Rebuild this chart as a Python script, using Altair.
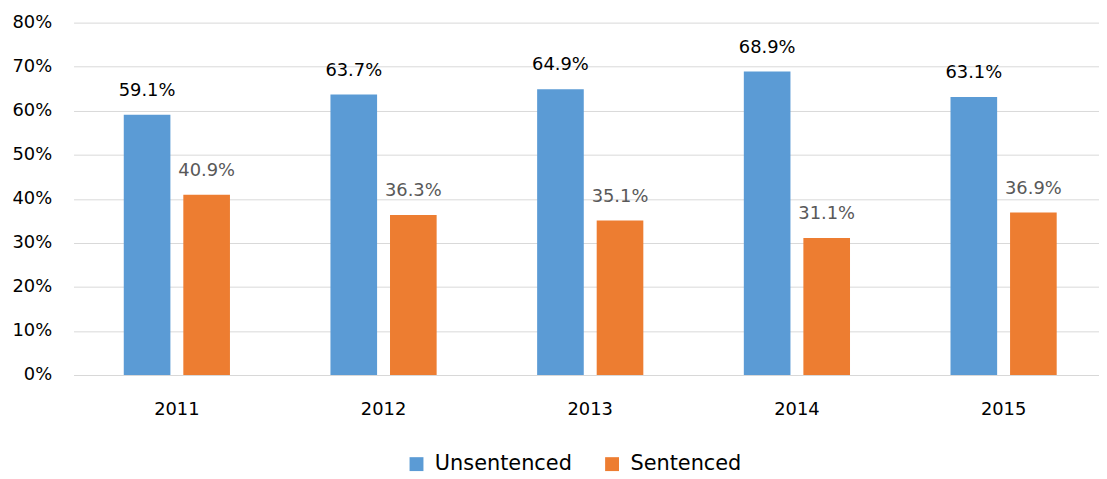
import altair as alt
import pandas as pd

years = ["2011", "2012", "2013", "2014", "2015"]
unsentenced = [59.1, 63.7, 64.9, 68.9, 63.1]
sentenced = [40.9, 36.3, 35.1, 31.1, 36.9]
series = ["Unsentenced", "Sentenced"]
colors = ["#5B9BD5", "#ED7D31"]
label_colors = ["#000000", "#595959"]

rows = []
for i, y in enumerate(years):
    rows.append({"year": y, "series": series[0], "value": unsentenced[i] / 100,
                 "label": f"{unsentenced[i]:.1f}%", "lc": label_colors[0]})
    rows.append({"year": y, "series": series[1], "value": sentenced[i] / 100,
                 "label": f"{sentenced[i]:.1f}%", "lc": label_colors[1]})
df = pd.DataFrame(rows)

FONT = "DejaVu Sans"

x = alt.X("year:N", title=None, sort=years,
          scale=alt.Scale(range=[0, 1041], paddingInner=0.424, paddingOuter=0.212),
          axis=alt.Axis(labelAngle=0, labelFontSize=18, labelPadding=26, ticks=False,
                        domain=True, domainColor="#d9d9d9", labelColor="#000000",
                        labelFont=FONT))
xo = alt.XOffset("series:N", sort=series,
                 scale=alt.Scale(paddingInner=0.217, paddingOuter=0.108))

base = alt.Chart(df)

bars = base.mark_bar().encode(
    x=x,
    xOffset=xo,
    y=alt.Y("value:Q", title=None,
            scale=alt.Scale(domain=[0, 0.8]),
            axis=alt.Axis(format=".0%", values=[0, 0.1, 0.2, 0.3, 0.4, 0.5, 0.6, 0.7, 0.8],
                          labelFontSize=18, labelPadding=22, ticks=False, domain=False,
                          gridColor="#d9d9d9", labelColor="#000000", labelFont=FONT)),
    color=alt.Color("series:N", sort=series,
                    scale=alt.Scale(domain=series, range=colors),
                    legend=alt.Legend(title=None, orient="none", direction="horizontal",
                                      legendX=335, legendY=434,
                                      symbolType="square", symbolSize=196,
                                      symbolStrokeWidth=0, symbolOpacity=1,
                                      labelFontSize=21, labelFont=FONT,
                                      labelColor="#000000", columnPadding=29,
                                      labelOffset=8)),
)

labels = base.mark_text(fontSize=18, font=FONT, baseline="middle", dy=-24).encode(
    x=x,
    xOffset=xo,
    y=alt.Y("value:Q"),
    text="label:N",
    color=alt.Color("lc:N", scale=None, legend=None),
)

chart = alt.layer(bars, labels).properties(
    width=1033, height=355,
    autosize=alt.AutoSizeParams(type="none"),
    padding={"left": 66, "top": 13, "right": 0, "bottom": 102},
).configure_view(stroke=None).resolve_scale(color="independent")

chart.save("out.html", embed_options={"renderer": "svg", "actions": False})
